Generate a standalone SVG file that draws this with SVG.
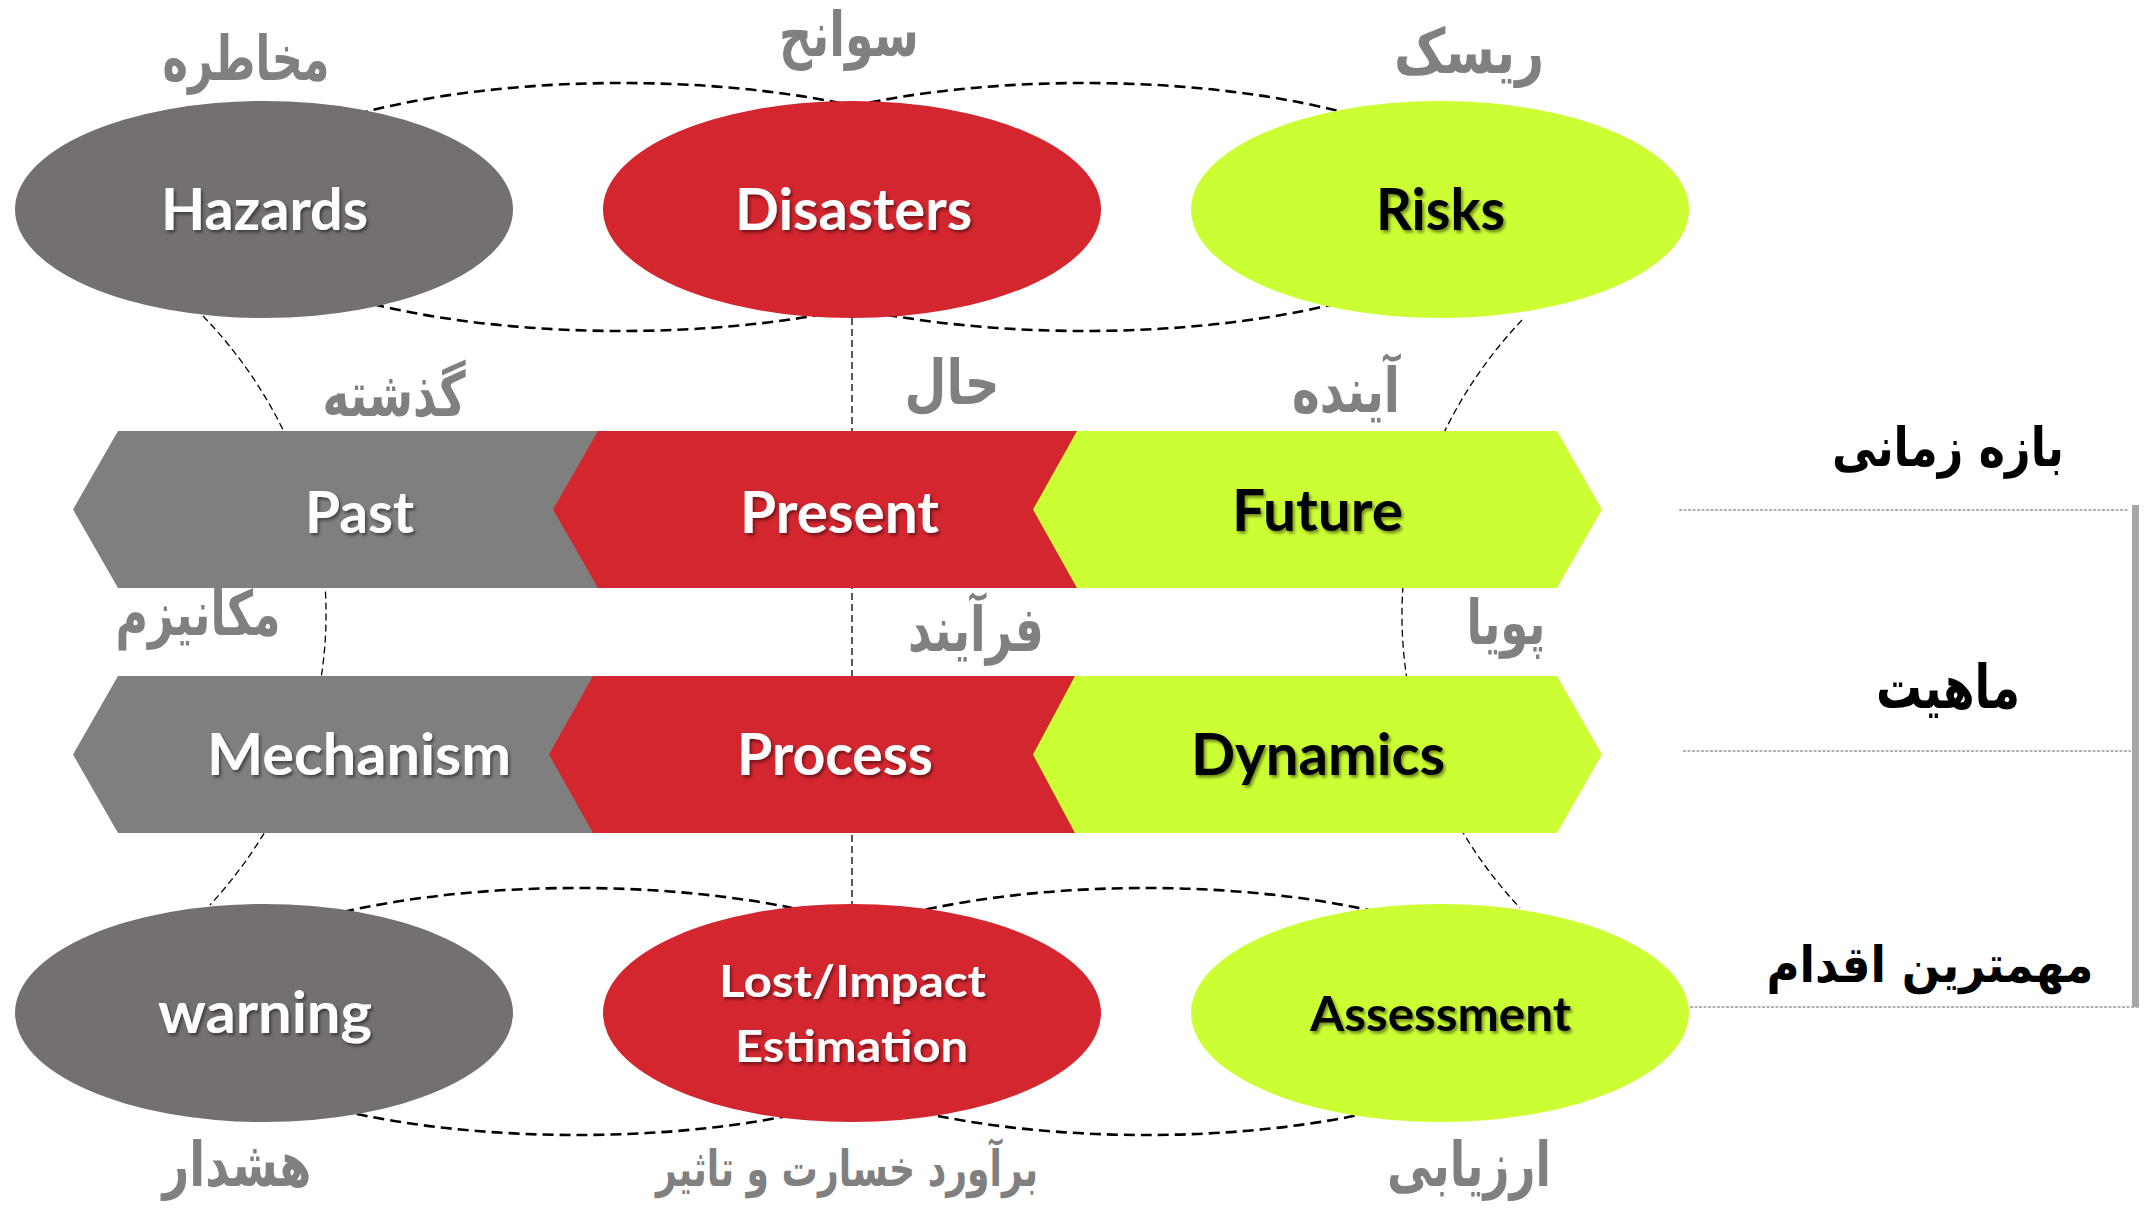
<svg xmlns="http://www.w3.org/2000/svg" width="2144" height="1208" viewBox="0 0 2144 1208">
<defs>
<style>
.en{font-family:Lato,"Open Sans","Liberation Sans",sans-serif;font-weight:bold;text-anchor:middle;filter:url(#sh)}
.w{fill:#ffffff}
.k{fill:#000000}
.fa{font-family:"DejaVu Sans","Noto Sans",sans-serif;font-weight:bold;text-anchor:middle}
.fg{fill:#808080}
.fk{fill:#000000}
.bigdash{fill:none;stroke:#000;stroke-width:2.6;stroke-dasharray:11 6}
.thindash{fill:none;stroke:#000;stroke-width:1.3;stroke-dasharray:7 4}
.sep{fill:none;stroke:#9a9a9a;stroke-width:1.6;stroke-dasharray:3 1.5}
.gE{fill:#757070}
.gH{fill:#7f7f7f}
.r{fill:#d3262f}
.gr{fill:#ccff33}
</style>
<filter id="sh" x="-15%" y="-40%" width="135%" height="190%">
<feDropShadow dx="2" dy="2.5" stdDeviation="1.5" flood-color="#000" flood-opacity="0.45"/>
</filter>
</defs>
<rect width="2144" height="1208" fill="#ffffff"/>

<g id="connectors">
<ellipse class="bigdash" cx="622" cy="207" rx="400" ry="124"/>
<ellipse class="bigdash" cx="1085" cy="207" rx="400" ry="124"/>
<ellipse class="bigdash" cx="577" cy="1011.5" rx="395" ry="123.5"/>
<ellipse class="bigdash" cx="1146" cy="1011.5" rx="390" ry="123.5"/>
<path class="thindash" d="M 203 316 A 490 450 0 0 1 210 905"/>
<path class="thindash" d="M 1522 320 A 490 450 0 0 0 1520 908"/>
<path class="thindash" d="M 852 318 V 904"/>
</g>

<g id="separators">
<path class="sep" d="M 1679 510 H 2128"/>
<path class="sep" d="M 1683 751 H 2131"/>
<path class="sep" d="M 1690 1007 H 2139"/>
<rect x="2132" y="505" width="7" height="502" fill="#a6a6a6"/>
</g>

<g id="past">
<polygon class="gH" points="73,509.5 118,431 640,431 640,588 118,588"/>
<text class="en w" x="359.5" y="533" font-size="58" textLength="109" lengthAdjust="spacingAndGlyphs">Past</text>
</g>
<g id="present">
<polygon class="r" points="553,509.5 598,431 1100,431 1100,588 598,588"/>
<text class="en w" x="839.5" y="533" font-size="58" textLength="199" lengthAdjust="spacingAndGlyphs">Present</text>
</g>
<g id="future">
<polygon class="gr" points="1033,509.5 1077,431 1557,431 1602,509.5 1557,588 1077,588"/>
<text class="en k" x="1317.5" y="531" font-size="58" textLength="171" lengthAdjust="spacingAndGlyphs">Future</text>
</g>

<g id="mechanism">
<polygon class="gH" points="73,754.5 118,676 640,676 640,833 118,833"/>
<text class="en w" x="359" y="775" font-size="58" textLength="304" lengthAdjust="spacingAndGlyphs">Mechanism</text>
</g>
<g id="process">
<polygon class="r" points="549,754.5 593,676 1100,676 1100,833 593,833"/>
<text class="en w" x="835" y="775" font-size="58" textLength="196" lengthAdjust="spacingAndGlyphs">Process</text>
</g>
<g id="dynamics">
<polygon class="gr" points="1033,754.5 1075,676 1557,676 1602,754.5 1557,833 1075,833"/>
<text class="en k" x="1318" y="775" font-size="58" textLength="254" lengthAdjust="spacingAndGlyphs">Dynamics</text>
</g>

<g id="hazards">
<ellipse class="gE" cx="264" cy="209.5" rx="249" ry="108.5"/>
<text class="en w" x="264.5" y="230" font-size="57" textLength="207" lengthAdjust="spacingAndGlyphs">Hazards</text>
</g>
<g id="disasters">
<ellipse class="r" cx="852" cy="209.5" rx="249" ry="108.5"/>
<text class="en w" x="853.5" y="230" font-size="57" textLength="237" lengthAdjust="spacingAndGlyphs">Disasters</text>
</g>
<g id="risks">
<ellipse class="gr" cx="1440" cy="209.5" rx="249" ry="108.5"/>
<text class="en k" x="1440.5" y="230" font-size="57" textLength="129" lengthAdjust="spacingAndGlyphs">Risks</text>
</g>

<g id="warning">
<ellipse class="gE" cx="264" cy="1013" rx="249" ry="109"/>
<text class="en w" x="265" y="1033" font-size="58" textLength="214" lengthAdjust="spacingAndGlyphs">warning</text>
</g>
<g id="lost-impact">
<ellipse class="r" cx="852" cy="1013" rx="249" ry="109"/>
<text class="en w" x="852.5" y="997" font-size="43" textLength="267" lengthAdjust="spacingAndGlyphs">Lost/Impact</text>
<text class="en w" x="851.5" y="1062" font-size="43" textLength="233" lengthAdjust="spacingAndGlyphs">Estimation</text>
</g>
<g id="assessment">
<ellipse class="gr" cx="1440" cy="1013" rx="249" ry="109"/>
<text class="en k" x="1440.5" y="1031" font-size="48" textLength="261" lengthAdjust="spacingAndGlyphs">Assessment</text>
</g>

<g id="labels-fa">
<text class="fa fg" x="246" y="80" font-size="62" textLength="167" lengthAdjust="spacingAndGlyphs">مخاطره</text>
<text class="fa fg" x="849" y="56" font-size="62" textLength="140" lengthAdjust="spacingAndGlyphs">سوانح</text>
<text class="fa fg" x="1469" y="73" font-size="62" textLength="150" lengthAdjust="spacingAndGlyphs">ریسک</text>
<text class="fa fg" x="394" y="416" font-size="62" textLength="143" lengthAdjust="spacingAndGlyphs">گذشته</text>
<text class="fa fg" x="952" y="404" font-size="62" textLength="95" lengthAdjust="spacingAndGlyphs">حال</text>
<text class="fa fg" x="1346" y="412" font-size="62" textLength="108" lengthAdjust="spacingAndGlyphs">آینده</text>
<text class="fa fg" x="198" y="635" font-size="62" textLength="165" lengthAdjust="spacingAndGlyphs">مکانیزم</text>
<text class="fa fg" x="976" y="651" font-size="62" textLength="136" lengthAdjust="spacingAndGlyphs">فرآیند</text>
<text class="fa fg" x="1506" y="644" font-size="62" textLength="79" lengthAdjust="spacingAndGlyphs">پویا</text>
<text class="fa fg" x="237" y="1186" font-size="62" textLength="149" lengthAdjust="spacingAndGlyphs">هشدار</text>
<text class="fa fg" x="847" y="1186" font-size="50" textLength="382" lengthAdjust="spacingAndGlyphs">برآورد خسارت و تاثیر</text>
<text class="fa fg" x="1469" y="1186" font-size="62" textLength="164" lengthAdjust="spacingAndGlyphs">ارزیابی</text>
</g>

<g id="row-headers">
<text class="fa fk" x="1948" y="466" font-size="54" textLength="232" lengthAdjust="spacingAndGlyphs">بازه زمانی</text>
<text class="fa fk" x="1948" y="708" font-size="60" textLength="144" lengthAdjust="spacingAndGlyphs">ماهیت</text>
<text class="fa fk" x="1930" y="982" font-size="50" textLength="327" lengthAdjust="spacingAndGlyphs">مهمترین اقدام</text>
</g>
</svg>
